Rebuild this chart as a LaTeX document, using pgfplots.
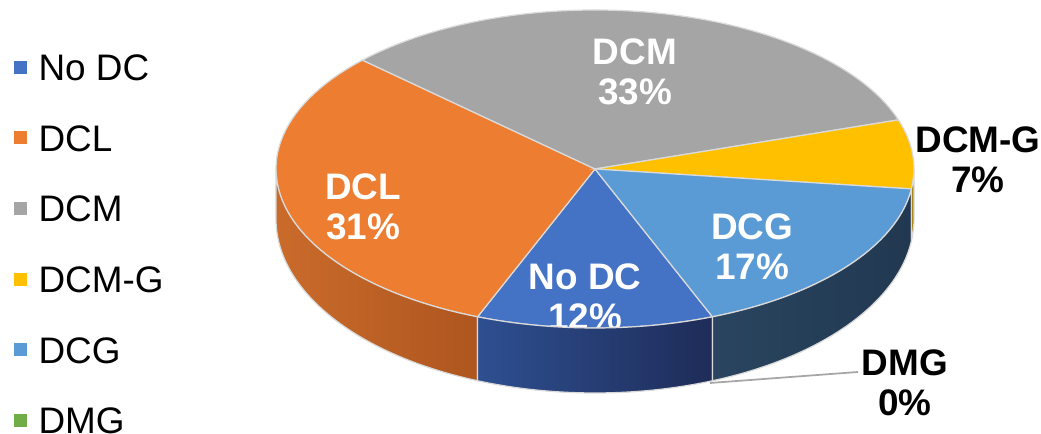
\documentclass[border=0pt]{standalone}
\usepackage{pgfplots}
\pgfplotsset{compat=1.18}
\usepackage{pgfplotstable}
\usepackage{fontspec}
\setmainfont{Liberation Sans}

\definecolor{cNoDC}{HTML}{4472C4}
\definecolor{cDCL}{HTML}{ED7D31}
\definecolor{cDCM}{HTML}{A5A5A5}
\definecolor{cDCMG}{HTML}{FFC000}
\definecolor{cDCG}{HTML}{5B9BD5}
\definecolor{cDMG}{HTML}{70AD47}
\definecolor{sDCLa}{HTML}{CA6B2B}
\definecolor{sDCLb}{HTML}{AE561F}
\definecolor{sNoDCa}{HTML}{2E4F90}
\definecolor{sNoDCb}{HTML}{1E2C58}
\definecolor{sDCGa}{HTML}{2A4560}
\definecolor{sDCGb}{HTML}{213850}
\definecolor{sDCMG}{HTML}{A07A00}
\definecolor{edge}{HTML}{DADADA}

% share of each category, in percent
\pgfplotstableread{
name pct
NoDC 12
DCL 31
DCM 33
DCMG 7
DCG 17
DMG 0
}\piedata

\pgfplotstablegetelem{0}{pct}\of\piedata\pgfmathsetmacro\pNoDC{\pgfplotsretval}
\pgfplotstablegetelem{1}{pct}\of\piedata\pgfmathsetmacro\pDCL{\pgfplotsretval}
\pgfplotstablegetelem{2}{pct}\of\piedata\pgfmathsetmacro\pDCM{\pgfplotsretval}
\pgfplotstablegetelem{3}{pct}\of\piedata\pgfmathsetmacro\pDCMG{\pgfplotsretval}
\pgfplotstablegetelem{4}{pct}\of\piedata\pgfmathsetmacro\pDCG{\pgfplotsretval}

% ellipse geometry (pixel units)
\def\cx{595}\def\cy{169}\def\rx{319}\def\ry{159}
\def\cyb{219}\def\ryb{174}

\pgfmathsetmacro\aA{-90+1.8*\pNoDC}
\pgfmathsetmacro\aB{\aA-3.6*\pNoDC}
\pgfmathsetmacro\aC{\aB-3.6*\pDCL}
\pgfmathsetmacro\aD{\aC-3.6*\pDCM}
\pgfmathsetmacro\aE{\aD-3.6*\pDCMG}
\pgfmathsetmacro\aF{\aE-3.6*\pDCG}
\pgfmathsetmacro\aEp{\aE+360}
\pgfmathsetmacro\aFp{\aF+360}
% bottom points of side faces
\pgfmathsetmacro\xBb{\cx+\rx*cos(\aB)}\pgfmathsetmacro\yBb{\cyb-\ryb*sin(\aB)}
\pgfmathsetmacro\xAb{\cx+\rx*cos(\aA)}\pgfmathsetmacro\yAb{\cyb-\ryb*sin(\aA)}
\pgfmathsetmacro\xEb{\cx+\rx*cos(\aEp)}\pgfmathsetmacro\yEb{\cyb-\ryb*sin(\aEp)}
\pgfmathsetmacro\xZb{\cx+\rx}\pgfmathsetmacro\yZb{\cyb}
\pgfmathsetmacro\xr{\rx*0.1}\pgfmathsetmacro\ybr{\ryb*0.1}

\begin{document}
\begin{tikzpicture}
\begin{axis}[
  width=10.41cm, height=4.34cm, scale only axis,
  xmin=0, xmax=1041, ymin=0, ymax=434, y dir=reverse,
  axis lines=none, clip=false,
  legend style={at={(axis cs:14,54)}, anchor=north west, draw=none, fill=none,
    inner sep=0pt, outer sep=0pt,
    font=\fontsize{10.5}{12}\selectfont,
    nodes={inner sep=0pt, text height=7.6pt, text depth=0pt},
    row sep=12.5pt,
    /tikz/every odd column/.append style={column sep=1.15mm}},
  legend cell align=left,
  legend image code/.code={\fill[#1, draw=none] (0mm,-0.65mm) rectangle (1.3mm,0.65mm);},
]
% top faces
\addplot[forget plot, fill=cNoDC, draw=edge, line width=0.35pt, domain=\aB:\aA, samples=40]
  ({\cx+\rx*cos(x)},{\cy-\ry*sin(x)}) -- (axis cs:\cx,\cy) -- cycle;
\addplot[forget plot, fill=cDCL, draw=edge, line width=0.35pt, domain=\aC:\aB, samples=80]
  ({\cx+\rx*cos(x)},{\cy-\ry*sin(x)}) -- (axis cs:\cx,\cy) -- cycle;
\addplot[forget plot, fill=cDCM, draw=edge, line width=0.35pt, domain=\aD:\aC, samples=80]
  ({\cx+\rx*cos(x)},{\cy-\ry*sin(x)}) -- (axis cs:\cx,\cy) -- cycle;
\addplot[forget plot, fill=cDCMG, draw=edge, line width=0.35pt, domain=\aE:\aD, samples=30]
  ({\cx+\rx*cos(x)},{\cy-\ry*sin(x)}) -- (axis cs:\cx,\cy) -- cycle;
\addplot[forget plot, fill=cDCG, draw=edge, line width=0.35pt, domain=\aF:\aE, samples=50]
  ({\cx+\rx*cos(x)},{\cy-\ry*sin(x)}) -- (axis cs:\cx,\cy) -- cycle;

% labels on the slices
\node[font=\bfseries\fontsize{10.5}{11.4}\selectfont, text=white, align=center] at (axis cs:635,72) {DCM\\33\%};
\node[font=\bfseries\fontsize{10.5}{11.4}\selectfont, text=white, align=center] at (axis cs:363,207) {DCL\\31\%};
\node[font=\bfseries\fontsize{10.5}{11.4}\selectfont, text=white, align=center] at (axis cs:585,297) {No DC\\12\%};
\node[font=\bfseries\fontsize{10.5}{11.4}\selectfont, text=white, align=center] at (axis cs:752,247) {DCG\\17\%};
\node[font=\bfseries\fontsize{10.5}{11.4}\selectfont, text=black, align=center] at (axis cs:978,160) {DCM-G\\7\%};
\node[font=\bfseries\fontsize{10.5}{11.4}\selectfont, text=black, align=center] at (axis cs:905,383) {DMG\\0\%};

% side faces
\addplot[forget plot, left color=sDCLa, right color=sDCLb, draw=edge, line width=0.35pt, domain=-180:\aB, samples=60]
  ({\cx+\rx*cos(x)},{\cy-\ry*sin(x)}) -- (axis cs:\xBb,\yBb)
  arc[start angle=\aB, end angle=-180, x radius=\xr mm, y radius=\ybr mm] -- cycle;
\addplot[forget plot, left color=sNoDCa, right color=sNoDCb, draw=edge, line width=0.35pt, domain=\aB:\aA, samples=40]
  ({\cx+\rx*cos(x)},{\cy-\ry*sin(x)}) -- (axis cs:\xAb,\yAb)
  arc[start angle=\aA, end angle=\aB, x radius=\xr mm, y radius=\ybr mm] -- cycle;
\addplot[forget plot, left color=sDCGa, right color=sDCGb, draw=edge, line width=0.35pt, domain=\aFp:\aEp, samples=50]
  ({\cx+\rx*cos(x)},{\cy-\ry*sin(x)}) -- (axis cs:\xEb,\yEb)
  arc[start angle=\aEp, end angle=\aFp, x radius=\xr mm, y radius=\ybr mm] -- cycle;
\addplot[forget plot, fill=sDCMG, draw=edge, line width=0.35pt, domain=\aEp:0, samples=10]
  ({\cx+\rx*cos(x)},{\cy-\ry*sin(x)}) -- (axis cs:\xZb,\yZb)
  arc[start angle=0, end angle=\aEp, x radius=\xr mm, y radius=\ybr mm] -- cycle;

% leader line for the zero slice
\addplot[forget plot, draw=gray!70, line width=0.5pt] coordinates {(710,383) (858,372)};

% legend
\addlegendimage{fill=cNoDC, draw=none}\addlegendentry{No DC}
\addlegendimage{fill=cDCL, draw=none}\addlegendentry{DCL}
\addlegendimage{fill=cDCM, draw=none}\addlegendentry{DCM}
\addlegendimage{fill=cDCMG, draw=none}\addlegendentry{DCM-G}
\addlegendimage{fill=cDCG, draw=none}\addlegendentry{DCG}
\addlegendimage{fill=cDMG, draw=none}\addlegendentry{DMG}
\end{axis}
\pgfresetboundingbox
\useasboundingbox (0,0) rectangle (10.41cm,4.34cm);
\end{tikzpicture}
\end{document}
